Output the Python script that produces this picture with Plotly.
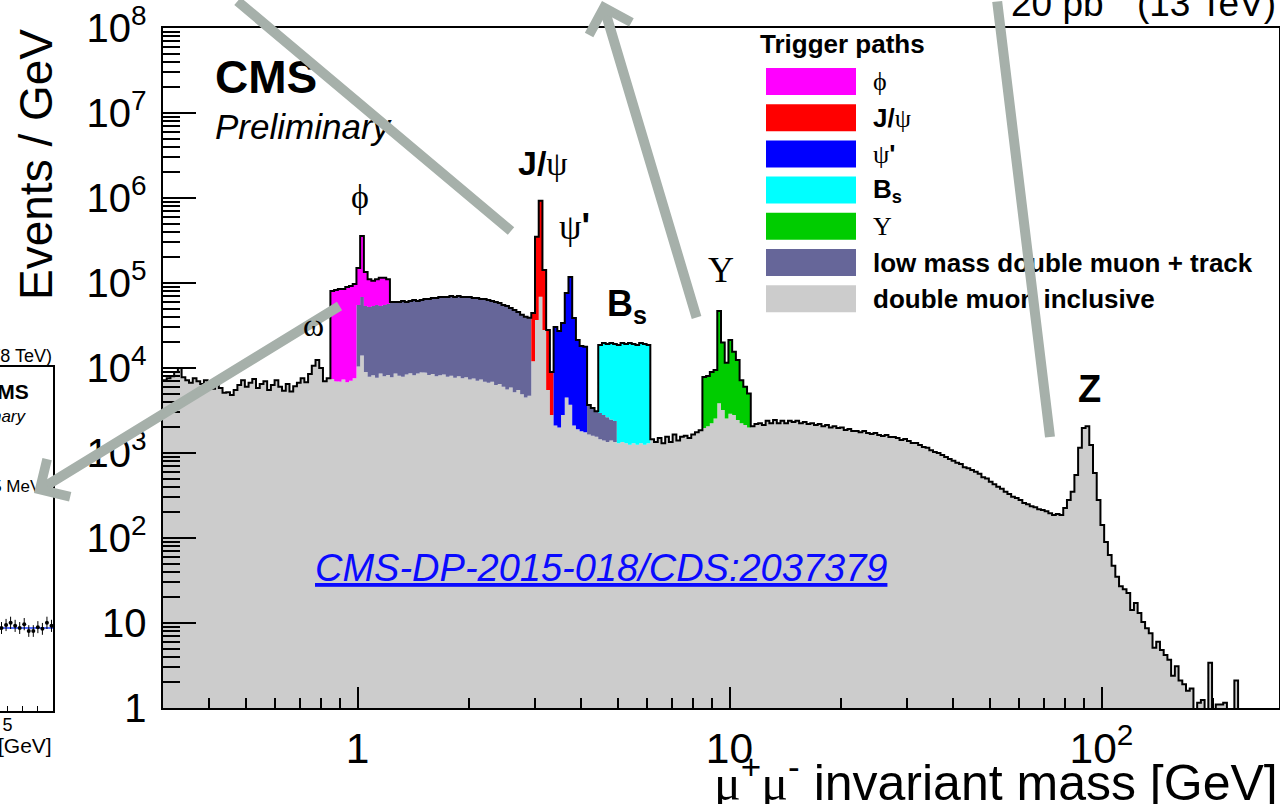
import numpy as np
import plotly.graph_objects as go

W, H = 1280, 804
SANS = "Liberation Sans, Arial, Helvetica, sans-serif"
SERIF = "Liberation Serif, Times New Roman, serif"

# ---------------- binning (log-uniform in dimuon mass) ----------------
mass_min, mass_max, n_bins = 0.3, 300.0, 300
edges = np.logspace(np.log10(mass_min), np.log10(mass_max), n_bins + 1)

# ---------------- events / GeV ----------------
double_muon_inclusive = [
    7200, 7600, 8000, 9000, 10000, 7800, 7200, 6700, 7600, 7000,
    6500, 7200, 6100, 5700, 6700, 5800, 5100, 5200, 4800, 5500,
    6300, 7200, 6000, 6700, 7400, 5800, 6500, 7000, 5500, 6300,
    7200, 6000, 5400, 6500, 5300, 6100, 6700, 7600, 6800, 8500,
    10600, 12400, 10000, 7000, 7600,
    7400, 7000, 6900, 7300, 6800, 7100, 7600,
    10400, 14000, 9000, 7900,
    8200, 7700, 8600, 8000, 8300, 7800, 8600, 8100, 7900, 8400,
    8700, 8200, 8600, 8900, 8800, 8300, 8500, 8000, 8200, 8400,
    7900, 8100, 7700, 8000, 7600, 7800, 7300, 7500, 7100, 7300,
    6900, 6700, 6900, 6300, 6500, 6000, 5600, 5900, 5200, 5500,
    4900, 4500, 4700,
    12000, 36700, 69000, 28000, 5500, 2800,
    2100, 2000, 2800, 4500, 3700, 2100, 1900, 1800, 1750, 1650, 1600, 1550,
    1450, 1400, 1350, 1400, 1350, 1300, 1350, 1300, 1250, 1300, 1250, 1300, 1250, 1300,
    1450, 1350, 1500, 1300, 1550, 1350, 1650, 1400, 1550, 1600, 1500, 1650, 1750, 1850,
    1970, 2070, 2240, 2540, 3850, 3200, 2540, 2900, 2800, 2450, 2240, 2130,
    2000, 2070, 2200, 2240, 2130, 2400, 2240, 2450, 2240, 2400,
    2240, 2400, 2320, 2400, 2240, 2320, 2200, 2240, 2130, 2200,
    2070, 2130, 2000, 2070, 1970, 2000, 1860, 1910, 1810, 1810,
    1760, 1810, 1720, 1670, 1720, 1630, 1590, 1630, 1540, 1540,
    1500, 1420, 1460, 1380, 1310, 1310, 1240, 1180, 1150, 1080,
    1030, 1000, 950, 900, 850, 810, 770, 740, 680, 660,
    630, 600, 570, 520, 500, 460, 430, 400, 380, 350,
    330, 305, 295, 280, 258, 250, 237, 230, 218, 213,
    207, 196, 186, 191, 186, 225, 280, 350, 550, 1150,
    1970, 2070, 1240, 580, 280, 142, 90, 63, 47, 35,
    27, 25, 22.5, 14.2, 17.2, 13.1, 10.3, 8.7, 7.6, 5.1,
    6.0, 4.8, 4.2, 3.7, 2.4, 3.1, 2.1, 1.9, 1.6, 1.7,
    0.5, 1.15, 1.24, 0.5, 3.4, 0.5, 1.1, 1.1, 1.15, 0,
    0, 2.1, 0, 0, 0, 0, 0, 0, 0, 0,
    0, 0, 0,
]

# low mass double muon + track (starts at 1.0 GeV)
track_from = 1.0
low_mass_track = [
    44700, 54400, 44600, 44300, 45400, 47400, 45000, 47100, 48300,
    52000, 51200, 51700, 53500, 51400, 52700, 54900, 52800, 54200, 56000,
    56500, 58000, 58500, 60200, 60000, 60500, 62100, 60700, 62200, 60800,
    60600, 61100, 59000, 59400, 57500, 57900, 56400, 54500, 53500, 51700,
    49100, 48000, 44800, 42800, 40200, 37300, 35500, 34200,
    0, 0, 0, 0, 0, 0, 0, 0, 0, 0, 0, 0, 0, 0, 0,
    2020, 1780, 1550, 1500, 1400, 1290, 1080, 1030,
]

phi_from = 0.85
phi_path = [73100, 75700, 78100, 77700, 83000, 85200, 89400, 94900,
            288600, 81400, 58800, 52400, 55900, 61400, 59900, 54400]

jpsi_from = 2.95
jpsi_path = [32400, 314000, 860000, 114000, 22500, 6170]

psi2s_from = 3.4
psi2s_path = [28200, 25200, 31000, 72000, 114300, 36600, 19400, 16300, 16000]

bs_from = 4.45
bs_path = [15650, 16900, 16460, 17220, 16720, 17300, 18350, 17800, 18450,
           17800, 17350, 18400, 17850, 17300]

upsilon_from = 8.5
upsilon_path = [5860, 5980, 6730, 6960, 43050, 16800, 8960, 18400, 12700,
                9950, 4960, 3870, 3000]

# inset (partly visible): candidates per 5 MeV
inset_mass = [4.96, 4.99, 5.02, 5.05, 5.08, 5.11, 5.14, 5.17, 5.20, 5.23, 5.26, 5.29]
inset_counts = [193, 200, 205, 198, 193, 202, 186, 186, 195, 191, 205, 198]
inset_fit_mass = [4.95, 5.30]
inset_fit = [193, 193]

assert len(double_muon_inclusive) == n_bins

COL_INCL = "#cccccc"
COL_TRACK = "#666699"
COL_PHI = "#ff00ff"
COL_JPSI = "#ff0000"
COL_PSI2S = "#0000ff"
COL_BS = "#00ffff"
COL_UPS = "#00cc00"
ARROW = "#a6b0aa"
FLOOR = 1e-3  # below the axis range; used to close polygons


def first_bin(m):
    return int(np.searchsorted(edges, m, side="right") - 1)


def step_xy(lo, hi, heights):
    xs = np.repeat(edges[lo:hi + 1], 2)[1:-1]
    ys = np.repeat(np.asarray(heights, float), 2)
    return xs, ys


fig = go.Figure()

# bottom layer: inclusive dimuon trigger
cum = np.array(double_muon_inclusive, float)
xs, ys = step_xy(0, n_bins, cum)
fig.add_trace(go.Scatter(
    x=np.concatenate([[edges[0]], xs, [edges[-1]]]),
    y=np.concatenate([[FLOOR], np.maximum(ys, FLOOR), [FLOOR]]),
    mode="lines", fill="toself", fillcolor=COL_INCL,
    line=dict(width=0, color=COL_INCL), hoverinfo="skip"))

stack = [
    (track_from, low_mass_track, COL_TRACK),
    (phi_from, phi_path, COL_PHI),
    (jpsi_from, jpsi_path, COL_JPSI),
    (psi2s_from, psi2s_path, COL_PSI2S),
    (bs_from, bs_path, COL_BS),
    (upsilon_from, upsilon_path, COL_UPS),
]
for start, vals, col in stack:
    lo = first_bin(start)
    hi = lo + len(vals)
    bottom = cum[lo:hi].copy()
    cum[lo:hi] += np.asarray(vals, float)
    top = cum[lo:hi].copy()
    xt, yt = step_xy(lo, hi, top)
    xb, yb = step_xy(lo, hi, bottom)
    fig.add_trace(go.Scatter(
        x=np.concatenate([xt, xb[::-1]]),
        y=np.concatenate([yt, yb[::-1]]),
        mode="lines", fill="toself", fillcolor=col,
        line=dict(width=0, color=col), hoverinfo="skip"))

# outline of the summed spectrum
fig.add_trace(go.Scatter(
    x=edges, y=np.maximum(np.append(cum, cum[-1]), FLOOR),
    mode="lines", line=dict(shape="hv", color="black", width=2),
    hoverinfo="skip"))

# inset panel
fig.add_trace(go.Scatter(
    x=inset_fit_mass, y=inset_fit, xaxis="x2", yaxis="y2", mode="lines",
    line=dict(color="#1f3fff", width=1.5), hoverinfo="skip"))
fig.add_trace(go.Scatter(
    x=inset_mass, y=inset_counts, xaxis="x2", yaxis="y2", mode="markers",
    marker=dict(color="black", size=4),
    error_y=dict(type="data", array=np.sqrt(inset_counts), color="black",
                 thickness=1, width=0),
    hoverinfo="skip"))

fig.update_layout(
    width=W, height=H, margin=dict(l=0, r=0, t=0, b=0),
    paper_bgcolor="white", plot_bgcolor="white", showlegend=False,
    font=dict(family=SANS, color="black"),
    xaxis=dict(
        type="log", domain=[163 / W, 1279 / W], anchor="y",
        range=[np.log10(mass_min), np.log10(mass_max)],
        showline=True, linecolor="black", linewidth=2, mirror=True,
        ticks="inside", ticklen=21, tickwidth=1.5, tickcolor="black",
        dtick=1, exponentformat="power", showgrid=False, zeroline=False,
        tickfont=dict(size=34, family=SANS, color="black"),
        ticklabelstandoff=4, automargin=False, ticklabeloverflow="allow",
        minor=dict(ticks="inside", ticklen=10, tickwidth=1.5,
                   tickcolor="black", dtick="D1", showgrid=False),
    ),
    yaxis=dict(
        type="log", domain=[1 - 708 / H, 1 - 28 / H], anchor="x",
        range=[0, 8],
        showline=True, linecolor="black", linewidth=2, mirror=True,
        ticks="inside", ticklen=33, tickwidth=1.5, tickcolor="black",
        dtick=1, exponentformat="power", showgrid=False, zeroline=False,
        tickfont=dict(size=32, family=SANS, color="black"),
        ticklabelstandoff=8, automargin=False, ticklabeloverflow="allow",
        minor=dict(ticks="inside", ticklen=17, tickwidth=1.5,
                   tickcolor="black", dtick="D1", showgrid=False),
    ),
    xaxis2=dict(
        domain=[0, 53 / W], anchor="y2", range=[4.95, 5.30],
        showline=True, linecolor="black", linewidth=1.5, mirror=True,
        tickvals=[5.0], ticktext=["5"], ticks="inside", ticklen=5,
        tickcolor="black", showgrid=False, zeroline=False,
        tickfont=dict(size=18, family=SANS, color="black"),
        ticklabelstandoff=-3, ticklabeloverflow="allow",
        minor=dict(ticks="inside", ticklen=5, dtick=0.1, tickcolor="black",
                   showgrid=False),
        automargin=False,
    ),
    yaxis2=dict(
        domain=[1 - 711 / H, 1 - 367 / H], anchor="x2", range=[0, 800],
        side="right", showline=True, linecolor="black", linewidth=1.5,
        showticklabels=False, ticks="", showgrid=False, zeroline=False,
        automargin=False,
    ),
)


def label(text, x, y, size, xanchor="center", yanchor="middle",
          family=SANS, color="black", angle=0):
    fig.add_annotation(
        text=text, x=x / W, y=1 - y / H, xref="paper", yref="paper",
        xanchor=xanchor, yanchor=yanchor, showarrow=False, textangle=angle,
        font=dict(size=size, family=family, color=color))


def greek(ch):
    return f"<span style='font-family:Liberation Serif'>{ch}</span>"


# axis titles
label("Events / GeV", 36, 165, 46, angle=-90)
label(f"{greek('μ')}<sup>+</sup>{greek('μ')}<sup>-</sup> invariant mass [GeV]",
      1280, 779, 50, xanchor="right")
label("20 pb<sup>-1</sup> (13 TeV)", 1278, 0, 37, xanchor="right")

# CMS labels
label("<b>CMS</b>", 213, 77, 46, xanchor="left")
label("<i>Preliminary</i>", 213, 126, 35, xanchor="left")
label("<i><u>CMS-DP-2015-018/CDS:2037379</u></i>", 313, 568, 38,
      xanchor="left", color="#0a0aff")

# resonance labels
label("ϕ", 360, 196, 34, family=SERIF)
label(f"<b>J/</b>{greek('ψ')}", 543, 163, 34)
label(f"{greek('ψ')}<b>'</b>", 574, 226, 36)
label("<b>B<sub>s</sub></b>", 605, 306, 36, xanchor="left")
label("Υ", 721, 270, 36, family=SERIF)
label("<b>Z</b>", 1089, 389, 38)

# legend
label("<b>Trigger paths</b>", 758, 44, 26, xanchor="left")
legend_rows = [
    (COL_PHI, greek("ϕ")),
    (COL_JPSI, f"<b>J/</b>{greek('ψ')}"),
    (COL_PSI2S, f"{greek('ψ')}<b>'</b>"),
    (COL_BS, "<b>B<sub>s</sub></b>"),
    (COL_UPS, greek("Υ")),
    (COL_TRACK, "<b>low mass double muon + track</b>"),
    (COL_INCL, "<b>double muon inclusive</b>"),
]
for k, (col, txt) in enumerate(legend_rows):
    top = 68 + 36.2 * k
    fig.add_shape(type="rect", xref="paper", yref="paper",
                  x0=766 / W, x1=856 / W, y0=1 - (top + 27) / H, y1=1 - top / H,
                  fillcolor=col, line=dict(width=0), layer="above")
    label(txt, 871, top + 13.5, 26, xanchor="left")

# inset texts
label("19.7 fb<sup>-1</sup> (8 TeV)", 54, 354, 18, xanchor="right")
label("<b>CMS</b>", 31, 391, 21, xanchor="right")
label("<i>Preliminary</i>", 29, 416, 17, xanchor="right")
label("Events / 5 MeV", 44, 486, 17, xanchor="right")
label("mass [GeV]", 54, 745, 21, xanchor="right")


# overlaid pointers
def pointer(tail, tip, head):
    fig.add_annotation(
        x=tip[0] / W, y=1 - tip[1] / H, xref="paper", yref="paper",
        ax=tail[0] - tip[0], ay=tail[1] - tip[1], text="", showarrow=True,
        arrowhead=head, arrowsize=0.85, arrowwidth=10, arrowcolor=ARROW,
        standoff=0, startstandoff=0)


pointer((236, -4), (511, 231), 0)
pointer((697, 319), (602, -8), 4)
pointer((997, -4), (1050, 437), 0)
pointer((341, 305), (34, 493), 4)

# omega label sits on top of the pointer
label("ω", 313, 325, 32, family=SERIF)

fig.write_html("out.html")
